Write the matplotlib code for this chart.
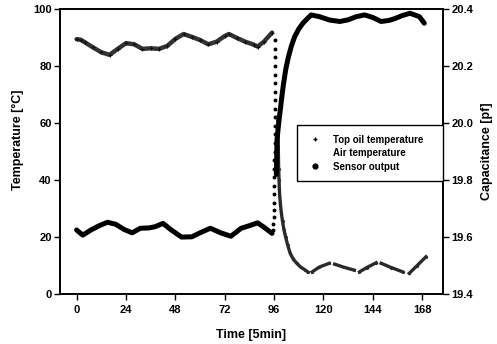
import matplotlib
matplotlib.use("Agg")
import matplotlib.pyplot as plt
from matplotlib.lines import Line2D
import numpy as np

plt.rcParams['font.family'] = ['Liberation Sans', 'DejaVu Sans']
plt.rcParams['font.weight'] = 'bold'

nan = np.nan

# Top oil temperature [degC], left axis
oil_t = [0, 2, 4, 8, 12, 16, 20, 24, 28, 32, 36, 40, 44, 48, 52, 56, 60,
         64, 68, 72, 74, 78, 82, 86, 88, 91, 95]
oil_v = [89.4, 89.2, 88.3, 86.5, 84.8, 83.9, 86.0, 88.0, 87.6, 86.0, 86.2,
         86.0, 87.0, 89.5, 91.2, 90.2, 89.1, 87.6, 88.5, 90.5, 91.2, 89.8,
         88.5, 87.5, 86.8, 88.5, 91.7]
# fast drop of the top oil temperature (dotted column)
drop_t = [96.5, 96.5, 96.5, 96.4, 96.4, 96.4, 96.4, 96.3, 96.3, 96.3, 96.3,
          96.2, 96.2, 96.2, 96.1, 96.1, 96.1, 96.0, 96.0, 95.9, 95.9, 95.8,
          95.7, 95.6]
drop_v = [89, 86, 83, 80, 77, 74, 71, 68, 65, 62, 59, 56, 53, 50, 47, 44,
          41, 38, 35, 32, 29.5, 27, 24.5, 22.5]

# Air temperature [degC], left axis
air_t = [97.8, 97.9, 98.0, 98.1, 98.2, 98.4, 98.6, 99.0, 99.5, 100.1, 100.8,
         101.6, 102.6, 103.8, 105.3, 107.0, 109.0, 111.0, 112.3, nan,
         114.5, 118.0, 122.8, nan, 125.4, 130.0, 135.0, nan,
         137.5, 141.0, 145.6, nan, 148.0, 153.0, 158.5, nan,
         161.7, 165.5, 169.8]
air_v = [62, 57, 52, 48, 44, 40, 36, 32, 28.5, 25.5, 22.5, 20, 17.2, 14.3,
         12.3, 10.8, 9.4, 8.5, 7.8, nan,
         7.8, 9.5, 10.8, nan, 10.5, 9.4, 8.4, nan,
         7.8, 9.3, 11.0, nan, 10.8, 9.3, 7.8, nan,
         7.3, 10.0, 13.1]

# Sensor output capacitance [pf], right axis
sens_t = [0, 3, 7, 11, 15, 19, 23, 27, 31, 35, 38, 42, 46, 51, 56, 60, 65,
          70, 75, 80, 84, 88, 91, 95, nan,
          97.1, 97.4, 97.8, 98.4, 99.0, 99.8, 100.6, 101.7, 103.0, 104.4,
          106, 108, 110, 112, 114, 118, 123, 128, 132, 136, 140, 144, 148,
          152, 155, 158, 162, 166.6, 169]
sens_c = [19.625, 19.607, 19.625, 19.640, 19.652, 19.645, 19.627, 19.615,
          19.631, 19.632, 19.636, 19.648, 19.625, 19.600, 19.601, 19.615,
          19.631, 19.615, 19.603, 19.631, 19.640, 19.650, 19.635, 19.613, nan,
          19.82, 19.94, 19.97, 20.01, 20.046, 20.095, 20.139, 20.19, 20.233,
          20.27, 20.303, 20.33, 20.35, 20.365, 20.379, 20.373, 20.361, 20.356,
          20.362, 20.373, 20.379, 20.37, 20.356, 20.36, 20.367, 20.376,
          20.385, 20.373, 20.35]

x_ticks = [0, 24, 48, 72, 96, 120, 144, 168]
temp_ticks = [0, 20, 40, 60, 80, 100]
cap_ticks = [19.4, 19.6, 19.8, 20.0, 20.2, 20.4]

fig = plt.figure(figsize=(4.97, 3.44), dpi=100)
ax = fig.add_axes([0.121, 0.145, 0.770, 0.829])
ax2 = ax.twinx()

ax.plot(oil_t, oil_v, color='#333333', lw=3.2, solid_capstyle='round')
ax.plot(oil_t, oil_v, ls='none', marker='+', ms=3, color='#111111', mew=0.8)
ax.plot(drop_t, drop_v, ls='none', marker='o', ms=1.8, color='black')
ax.plot(air_t, air_v, color='#2a2a2a', lw=2.4, marker='.', ms=2.5)
ax2.plot(sens_t, sens_c, color='black', lw=3.6, solid_capstyle='round')

ax.set_xlim(-8, 178)
ax.set_ylim(0, 100)
ax2.set_ylim(19.4, 20.4)
ax.set_xticks(x_ticks)
ax.set_yticks(temp_ticks)
ax2.set_yticks(cap_ticks)
ax2.set_yticklabels(['%.1f' % c for c in cap_ticks])

for a in (ax, ax2):
    a.tick_params(direction='out', length=4, width=1, labelsize=8, pad=2)
    for s in a.spines.values():
        s.set_linewidth(1.2)
ax.tick_params(axis='x', pad=4)

ax.set_xlabel('Time [5min]', fontsize=9, fontweight='bold', labelpad=10)
ax.set_ylabel('Temperature [°C]', fontsize=9, fontweight='bold')
ax.yaxis.set_label_coords(-0.095, 0.54)
ax2.set_ylabel('Capacitance [pf]', fontsize=9, fontweight='bold', labelpad=6)

handles = [
    Line2D([], [], ls='none', marker='+', ms=3, color='black', mew=1),
    Line2D([], [], ls='none', marker=''),
    Line2D([], [], ls='none', marker='o', ms=3.5, color='black'),
]
labels = ['Top oil temperature', 'Air temperature', 'Sensor output']
leg = ax2.legend(handles, labels, loc='upper left',
                 bbox_to_anchor=(0.619, 0.396, 0.381, 0.197), mode='expand',
                 frameon=True, fancybox=False, framealpha=1, borderaxespad=0,
                 fontsize=7, handlelength=1.8, handletextpad=0.9,
                 labelspacing=0.35, borderpad=1.0)
leg.get_frame().set_edgecolor('black')
leg.get_frame().set_linewidth(1.0)

fig.savefig('out.png', dpi=100)
